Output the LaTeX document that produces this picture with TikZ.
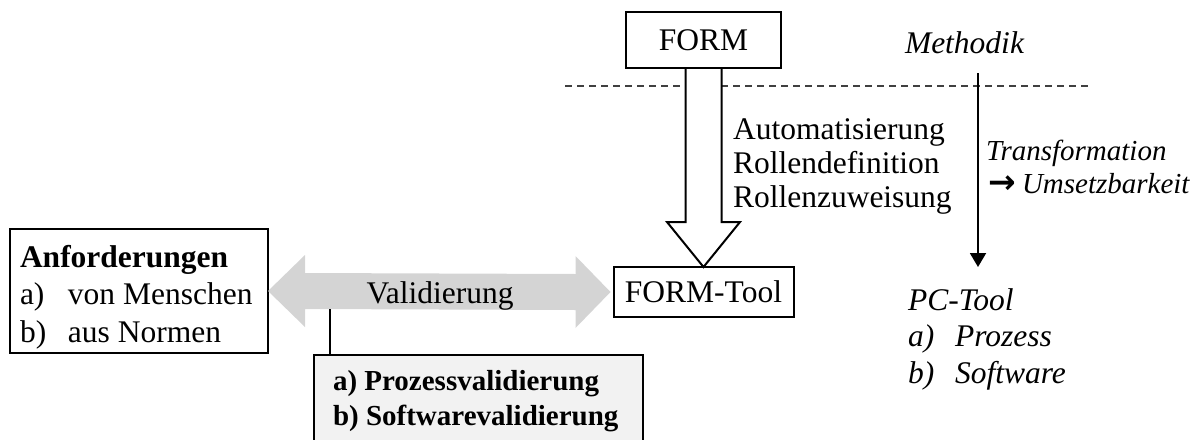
\documentclass[tikz,border=0pt]{standalone}
\usepackage{fontspec}
\setmainfont{Liberation Serif}
\newfontfamily\arrowfont{DejaVu Sans}
\usetikzlibrary{calc,arrows.meta}
\definecolor{arrowgray}{RGB}{212,212,212}
\definecolor{boxgray}{RGB}{242,242,242}
\begin{document}
\begin{tikzpicture}[x=1pt,y=-1pt,
  every node/.style={inner sep=0pt, outer sep=0pt},
  frame/.style={draw, line width=2pt},
  bigfont/.style={font=\fontsize{31.5}{34}\selectfont},
  txt/.style={anchor=base west, font=\fontsize{31.5}{34}\selectfont},
  smalltxt/.style={anchor=base west, font=\fontsize{29}{33}\selectfont},
  hollow/.style={draw, line width=2pt, fill=white},
  thinarrow/.style={line width=2pt, -{Triangle[length=14pt,width=16pt]}},
  sepline/.style={line width=1.5pt, black!75, dash pattern=on 7pt off 5pt},
]
\clip (0,0) rectangle (1198,439);

% separator between method and tool level
\coordinate (dl) at (565,86);
\coordinate (dr) at (1092,86);
\draw[sepline] (dl) -- (dr);

% boxes
\node[frame, bigfont, minimum width=155pt, minimum height=56pt] (form) at (703.5,40) {FORM};
\node[frame, bigfont, fill=white, minimum width=180pt, minimum height=50pt] (tool) at (703.5,292) {FORM-Tool};
\node[frame, minimum width=258pt, minimum height=124pt] (anf) at (139,291) {};
\node[frame, fill=boxgray, minimum width=329pt, minimum height=94pt] (proc) at (478.5,402) {};

% hollow arrow FORM -> FORM-Tool
\draw[hollow] ($(form.south)+(-18,0)$) -- ($(tool.north)+(-18,-45)$) -- ++(-18.5,0)
  -- (tool.north) -- ($(tool.north)+(36.5,-45)$) -- ++(-18.5,0) -- ($(form.south)+(18,0)$);
\draw[line width=2pt] (form.south west) -- (form.south east);

% grey double arrow between requirements and tool
\fill[arrowgray] (anf.east) -- ++(37,-36) -- ++(0,18) -- ($(tool.west)+(-38,-18)$)
  -- ++(0,-18) -- ($(tool.west)+(-3,0)$) -- ++(-35,36) -- ++(0,-18)
  -- ($(anf.east)+(37,18)$) -- ++(0,18) -- cycle;
\node[txt, anchor=base] (valid) at (440,303) {Validierung};

% link from the validation arrow to its kinds
\coordinate (vb) at ($(anf.east)+(62,18)$);
\draw[line width=1.5pt] (vb) -- (vb |- proc.north);

% texts
\node[txt, font=\fontsize{31.5}{37.5}\selectfont] (anftxt) at (20,267)
  {\begin{tabular}[t]{@{}l@{}}\textbf{Anforderungen}\\
   \makebox[48pt][l]{a)}von Menschen\\
   \makebox[48pt][l]{b)}aus Normen\end{tabular}};
\node[smalltxt, font=\fontsize{29}{35}\selectfont\bfseries] (proctxt) at (333,390)
  {\begin{tabular}[t]{@{}l@{}}a) Prozessvalidierung\\b) Softwarevalidierung\end{tabular}};
\node[txt] (autotxt) at (733,139)
  {\begin{tabular}[t]{@{}l@{}}Automatisierung\\Rollendefinition\\Rollenzuweisung\end{tabular}};

% method level -> PC tool
\node[txt, font=\fontsize{31.5}{34}\itshape] (meth) at (905,53) {Methodik};
\coordinate (ts) at (978,73);
\coordinate (te) at (978,267);
\draw[thinarrow] (ts) -- (te);
\node[smalltxt, font=\fontsize{29}{33}\selectfont\itshape] (trans) at (986,160)
  {\begin{tabular}[t]{@{}l@{}}Transformation\\
   \hspace{2pt}\makebox[34pt][l]{\upshape\bfseries\arrowfont\fontsize{33}{33}\selectfont →}Umsetzbarkeit\end{tabular}};
\node[txt, font=\fontsize{31.5}{36.5}\selectfont\itshape] (pctool) at (908,310)
  {\begin{tabular}[t]{@{}l@{}}PC-Tool\\
   \makebox[47pt][l]{a)}Prozess\\
   \makebox[47pt][l]{b)}Software\end{tabular}};
\end{tikzpicture}
\end{document}
